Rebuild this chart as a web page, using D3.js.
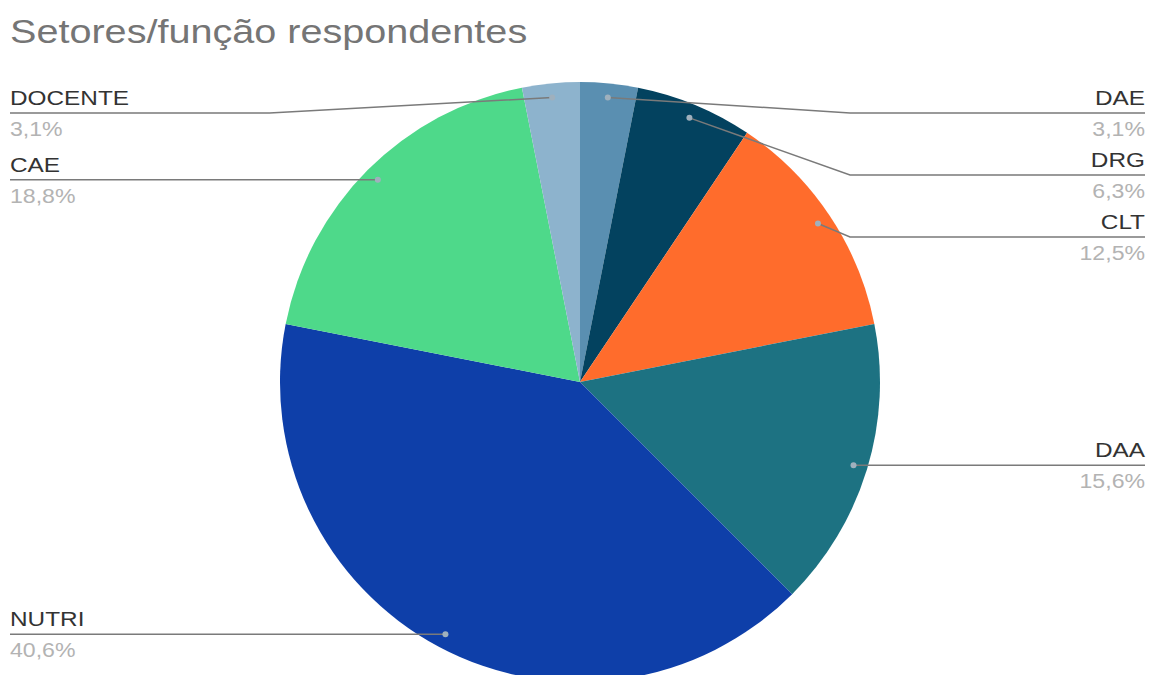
<!DOCTYPE html>
<html>
<head>
<meta charset="utf-8">
<script src="https://cdn.jsdelivr.net/npm/d3@7"></script>
<style>
  html, body { margin: 0; padding: 0; background: #fff; }
  svg { display: block; font-family: "Liberation Sans", Arial, sans-serif; }
</style>
</head>
<body>
<svg id="chart" width="1150" height="675"></svg>
<script>
// Respondents by sector / role (percent share), clockwise from 12 o'clock
const categories = ["DAE", "DRG", "CLT", "DAA", "NUTRI", "CAE", "DOCENTE"];
const shares = [3.1, 6.3, 12.5, 15.6, 40.6, 18.8, 3.1];
const shareLabels = ["3,1%", "6,3%", "12,5%", "15,6%", "40,6%", "18,8%", "3,1%"];
const sliceColors = ["#5a8fb1", "#03425f", "#ff6c2c", "#1d7282", "#0e3fa9", "#4ed98a", "#8db3cd"];
const title = "Setores/função respondentes";

const W = 1150, H = 675;
const cx = 580, cy = 382, R = 300;
const svg = d3.select("#chart");

// wide rendering of the text
function placeText(sel, x, y, sx) {
  return sel.attr("transform", `translate(${x},${y}) scale(${sx},1)`);
}

placeText(svg.append("text"), 10, 43, 1.2)
  .attr("font-size", 33)
  .attr("fill", "#757575")
  .text(title);

const data = categories.map((c, i) => ({ name: c, value: shares[i], label: shareLabels[i], color: sliceColors[i] }));

const pie = d3.pie().value(d => d.value).sort(null);
const arcs = pie(data);
const arc = d3.arc().innerRadius(0).outerRadius(R);
const dotArc = d3.arc().innerRadius(R * 0.953).outerRadius(R * 0.953);

const g = svg.append("g").attr("transform", `translate(${cx},${cy})`);
g.selectAll("path.slice")
  .data(arcs)
  .join("path")
  .attr("class", "slice")
  .attr("d", arc)
  .attr("fill", d => d.data.color);

// Label layout: each label sits on a leader line; stack labels on each side
const spacing = 62, minY = 113;
const items = arcs.map(a => {
  const [x, y] = dotArc.centroid(a);
  const mid = (a.startAngle + a.endAngle) / 2;
  return { a, dx: cx + x, dy: cy + y, right: mid < Math.PI };
});
["right", "left"].forEach(side => {
  const list = items.filter(d => (side === "right") === d.right).sort((p, q) => p.dy - q.dy);
  let prev = -Infinity;
  list.forEach(d => {
    d.ly = Math.max(d.dy, prev + spacing, minY);
    prev = d.ly;
  });
});

const elbowR = cx + 0.9 * R, elbowL = cx - 1.035 * R;
const edgeR = 1145, edgeL = 10;

const lab = svg.append("g");
items.forEach(d => {
  const ex = d.right ? Math.max(d.dx, elbowR) : Math.min(d.dx, elbowL);
  const tx = d.right ? edgeR : edgeL;
  lab.append("path")
    .attr("d", d3.line()([[d.dx, d.dy], [ex, d.ly], [tx, d.ly]]))
    .attr("fill", "none")
    .attr("stroke", "#7a7a7a")
    .attr("stroke-width", 1.5);
  lab.append("circle")
    .attr("cx", d.dx).attr("cy", d.dy).attr("r", 3)
    .attr("fill", "#9fb0bd");
  const anchor = d.right ? "end" : "start";
  placeText(lab.append("text"), tx, d.ly - 8, 1.16)
    .attr("text-anchor", anchor)
    .attr("font-size", 21)
    .attr("fill", "#333")
    .text(d.a.data.name);
  placeText(lab.append("text"), tx, d.ly + 23, 1.1)
    .attr("text-anchor", anchor)
    .attr("font-size", 21)
    .attr("fill", "#b3b3b3")
    .text(d.a.data.label);
});
</script>
</body>
</html>
